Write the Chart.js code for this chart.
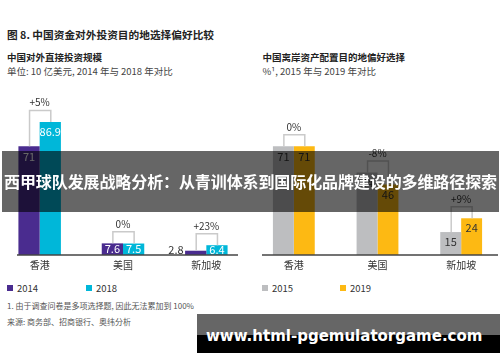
<!DOCTYPE html>
<html>
<head>
<meta charset="utf-8">
<script src="https://cdn.jsdelivr.net/npm/chart.js@4/dist/chart.umd.min.js"></script>
<style>
html, body { margin: 0; padding: 0; background: #fff; }
body { width: 500px; height: 362px; overflow: hidden; position: relative;
  font-family: "Noto Sans CJK SC", "Noto Sans", sans-serif; color: #333; }
.t { position: absolute; white-space: nowrap; line-height: 1; }
canvas { position: absolute; }
.leg { position: absolute; font-size: 9.5px; line-height: 1; white-space: nowrap; color: #333; }
.leg i { display: inline-block; width: 6px; height: 6px; margin-right: 4px; vertical-align: 1px; }
#banner { position: absolute; left: 2px; right: 1px; top: 151px; height: 61px;
  background: rgba(0,0,0,0.6); color: #fff; font-weight: 700; font-size: 16px;
  line-height: 61px; text-align: center; white-space: nowrap; letter-spacing: -0.1px; }
#mark { position: absolute; left: 197px; top: 314px; width: 303px; height: 39px;
  background: linear-gradient(to bottom, #666 0, #666 54%, #000 54%, #000 100%);
  color: #fff; font-family: "DejaVu Sans", sans-serif; font-weight: 700; font-size: 15px;
  line-height: 45px; padding-left: 9px; box-sizing: border-box; white-space: nowrap; }
</style>
</head>
<body>
<div class="t" style="left:7px;top:29.5px;font-size:10.7px;font-weight:700;color:#222">图 8. 中国资金对外投资目的地选择偏好比较</div>
<div class="t" style="left:7px;top:53px;font-size:9.5px;font-weight:700;color:#222">中国对外直接投资规模</div>
<div class="t" style="left:7px;top:66.5px;font-size:9.5px;color:#444">单位: 10 亿美元, 2014 年与 2018 年对比</div>
<div class="t" style="left:262.5px;top:53px;font-size:9.5px;font-weight:700;color:#222">中国离岸资产配置目的地偏好选择</div>
<div class="t" style="left:262.5px;top:66.5px;font-size:9.5px;color:#444">%¹, 2015 年与 2019 年对比</div>

<canvas id="fdiChart" width="250" height="195" style="left:-2px;top:80px"></canvas>
<canvas id="offshoreChart" width="251" height="195" style="left:252px;top:80px"></canvas>

<div id="legendLeft"></div>
<div id="legendRight"></div>

<div class="t" style="left:7px;top:302px;font-size:8px;color:#555">1. 由于调查问卷是多项选择题, 因此无法累加到 100%</div>
<div class="t" style="left:7px;top:317.5px;font-size:8px;color:#555">来源: 商务部、招商银行、奥纬分析</div>

<div id="banner">西甲球队发展战略分析：从青训体系到国际化品牌建设的多维路径探索</div>
<div id="mark">www.html-pgemulatorgame.com</div>

<script>
const categories = ['香港', '美国', '新加坡'];

// left panel: FDI, USD 10 bn
const fdiYears = ['2014', '2018'];
const fdi2014 = [71, 7.6, 2.8];
const fdi2018 = [86.9, 7.5, 6.4];
const fdiChange = ['+5%', '0%', '+23%'];

// right panel: offshore asset destination, %
const offshoreYears = ['2015', '2019'];
const offshore2015 = [71, 54, 15];
const offshore2019 = [71, 46, 24];
const offshoreChange = ['0%', '-8%', '+9%'];

const FONT = '"Noto Sans CJK SC", "Noto Sans", sans-serif';
Chart.defaults.font.family = FONT;

const barDecor = {
  id: 'barDecor',
  afterDatasetsDraw(chart, args, opts) {
    const ctx = chart.ctx;
    const y0 = chart.scales.y.getPixelForValue(0);
    ctx.save();
    ctx.textBaseline = 'middle';

    // value labels
    ctx.font = '11px ' + FONT;
    chart.data.datasets.forEach((ds, i) => {
      chart.getDatasetMeta(i).data.forEach((bar, j) => {
        const v = ds.data[j];
        if (y0 - bar.y < 8) {
          ctx.fillStyle = '#333';
          ctx.textAlign = 'right';
          ctx.fillText(String(v), bar.x - bar.width / 2 - 1.5, y0 - 5);
          return;
        }
        ctx.fillStyle = opts.labelColor;
        ctx.textAlign = 'center';
        ctx.fillText(String(v), bar.x, Math.min(bar.y + 10, (bar.y + y0) / 2));
      });
    });

    // change brackets
    const m0 = chart.getDatasetMeta(0).data;
    const m1 = chart.getDatasetMeta(1).data;
    ctx.font = '10px ' + FONT;
    opts.changes.forEach((txt, j) => {
      const a = m0[j], b = m1[j];
      const top = Math.min(a.y, b.y) - 11.5;
      ctx.strokeStyle = '#cacaca';
      ctx.lineWidth = 1.5;
      ctx.beginPath();
      ctx.moveTo(a.x + 0.5, a.y);
      ctx.lineTo(a.x + 0.5, top);
      ctx.lineTo(b.x + 0.5, top);
      ctx.lineTo(b.x + 0.5, b.y);
      ctx.stroke();
      ctx.fillStyle = '#333';
      ctx.textAlign = 'center';
      ctx.fillText(txt, (a.x + b.x) / 2, top - 8);
    });

    // baseline
    const area = chart.chartArea;
    ctx.strokeStyle = '#444';
    ctx.lineWidth = 1.5;
    ctx.beginPath();
    ctx.moveTo(area.left + opts.insetL, y0);
    ctx.lineTo(area.right - opts.insetR, y0);
    ctx.stroke();
    ctx.restore();
  }
};

function makeChart(id, years, a, b, colors, changes, pct, labelColor, insetL, insetR) {
  return new Chart(document.getElementById(id), {
    type: 'bar',
    data: {
      labels: categories,
      datasets: [
        { label: years[0], data: a, backgroundColor: colors[0], categoryPercentage: pct, barPercentage: 1 },
        { label: years[1], data: b, backgroundColor: colors[1], categoryPercentage: pct, barPercentage: 1 }
      ]
    },
    options: {
      responsive: false,
      animation: false,
      layout: { padding: { top: 22, left: 0, right: 0, bottom: 0 } },
      plugins: {
        legend: { display: false },
        tooltip: { enabled: false },
        barDecor: { changes, labelColor, insetL, insetR }
      },
      scales: {
        x: {
          grid: { display: false, drawTicks: false },
          border: { display: false },
          ticks: { color: '#333', font: { size: 10 }, padding: 4 }
        },
        y: { display: false, min: 0, max: 100 }
      }
    },
    plugins: [barDecor]
  });
}

const leftColors = ['#4a2c8f', '#00b7d9'];
const rightColors = ['#bdbec0', '#fdb913'];

makeChart('fdiChart', fdiYears, fdi2014, fdi2018, leftColors, fdiChange, 0.51, '#fff', 19, 10);
makeChart('offshoreChart', offshoreYears, offshore2015, offshore2019, rightColors, offshoreChange, 0.5, '#333', 10, 5);

function legend(id, years, colors, left, gap) {
  const el = document.getElementById(id);
  years.forEach((y, i) => {
    const d = document.createElement('div');
    d.className = 'leg';
    d.style.left = (left + i * gap) + 'px';
    d.style.top = '284px';
    d.innerHTML = `<i style="background:${colors[i]}"></i>${y}`;
    el.appendChild(d);
  });
}
legend('legendLeft', fdiYears, leftColors, 7, 79);
legend('legendRight', offshoreYears, rightColors, 262, 78);
</script>
</body>
</html>
